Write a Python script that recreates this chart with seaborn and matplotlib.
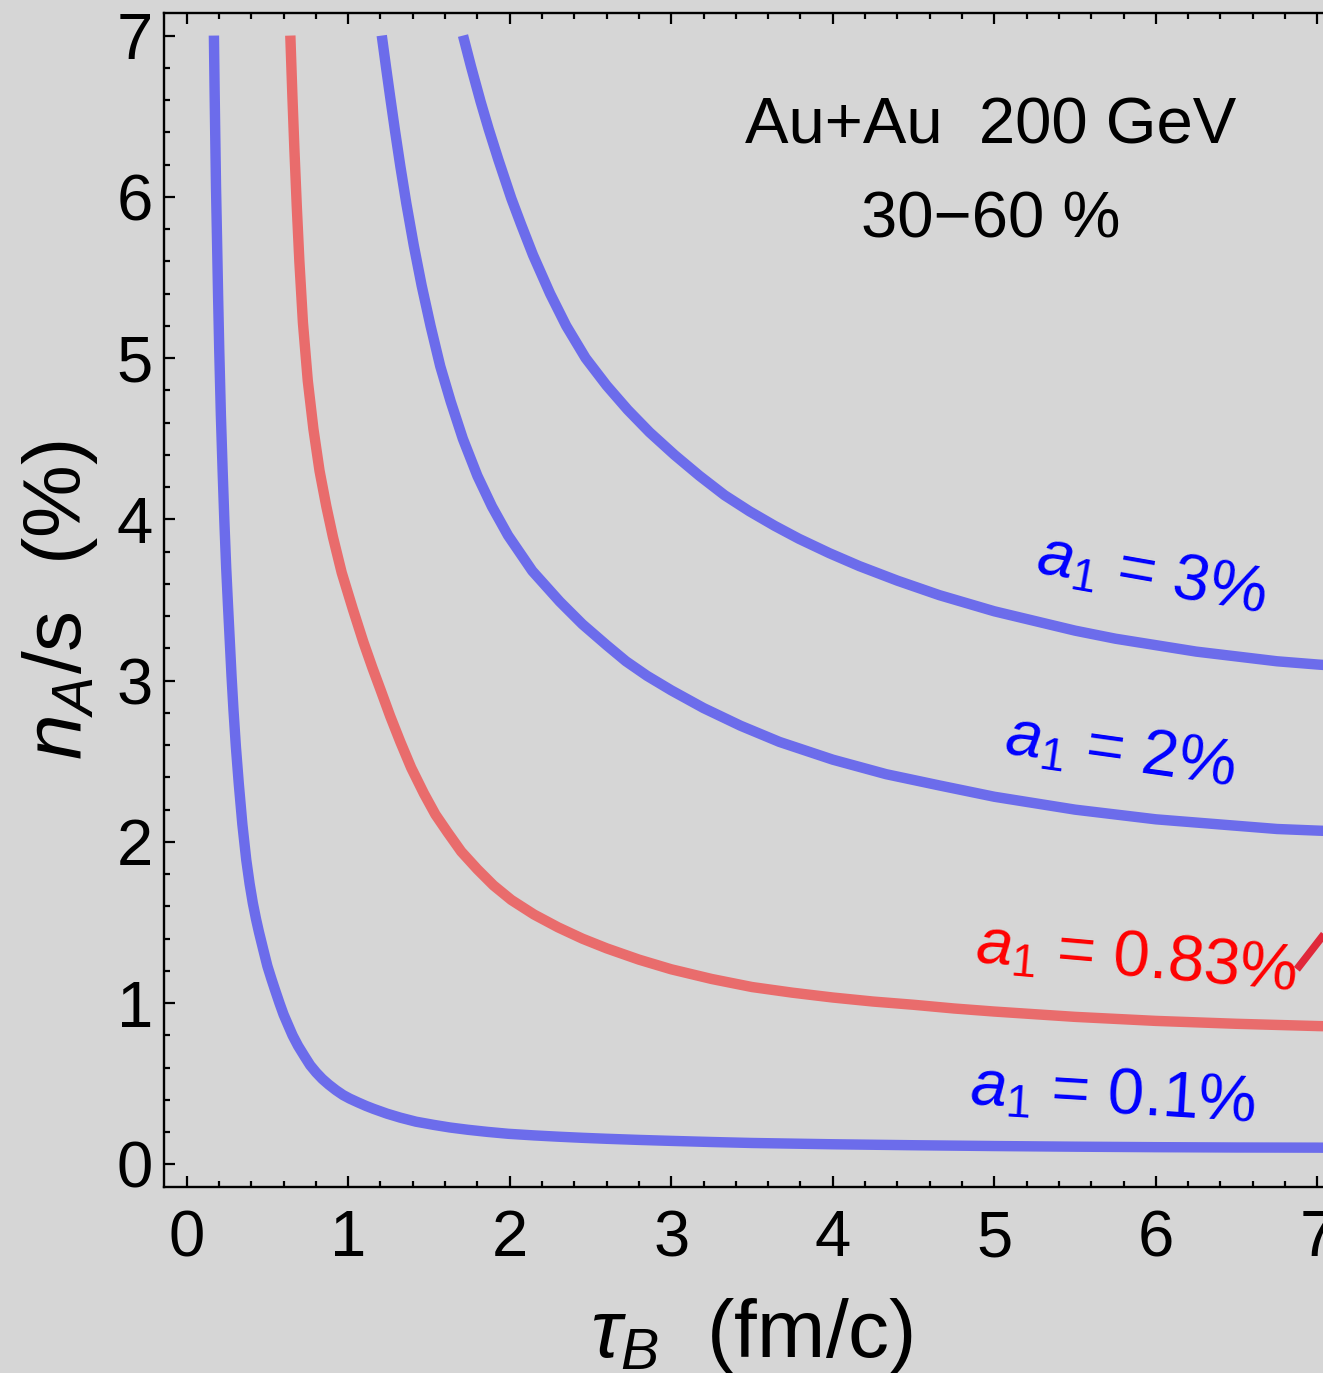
import matplotlib
matplotlib.use("Agg")
import matplotlib.pyplot as plt
from matplotlib.ticker import MultipleLocator
import seaborn as sns
import pandas as pd

# n_A/s (%) versus tau_B (fm/c) for several values of a_1
tau_01 = [0.169, 0.173, 0.177, 0.182, 0.188, 0.195, 0.202, 0.212, 0.223, 0.234,
          0.245, 0.256, 0.267, 0.278, 0.290, 0.305, 0.323, 0.345, 0.369, 0.39,
          0.41, 0.43, 0.448, 0.475, 0.50, 0.525, 0.548, 0.575, 0.60, 0.63,
          0.656, 0.69, 0.73, 0.765, 0.802, 0.84, 0.88, 0.925, 0.969, 1.01,
          1.06, 1.11, 1.156, 1.24, 1.323, 1.42, 1.531, 1.63, 1.74, 1.86,
          1.99, 2.15, 2.3, 2.45, 2.6, 2.8, 3.0, 3.25, 3.5, 3.75,
          4.0, 4.5, 5.0, 5.5, 6.0, 6.5, 7.0, 7.14]
y_01 = [7.00, 6.68, 6.40, 6.06, 5.75, 5.38, 5.05, 4.65, 4.30, 3.98,
        3.70, 3.47, 3.25, 3.03, 2.82, 2.59, 2.36, 2.11, 1.89, 1.74,
        1.62, 1.52, 1.44, 1.33, 1.23, 1.15, 1.08, 1.00, 0.93, 0.86,
        0.80, 0.735, 0.67, 0.615, 0.57, 0.53, 0.495, 0.46, 0.43, 0.408,
        0.385, 0.363, 0.345, 0.315, 0.29, 0.265, 0.245, 0.229, 0.215, 0.202,
        0.19, 0.18, 0.172, 0.165, 0.159, 0.152, 0.146, 0.139, 0.133, 0.129,
        0.125, 0.119, 0.114, 0.110, 0.107, 0.105, 0.104, 0.103]

tau_083 = [0.642, 0.655, 0.667, 0.682, 0.698, 0.72, 0.75, 0.785, 0.823, 0.865,
           0.906, 0.96, 1.027, 1.094, 1.15, 1.198, 1.26, 1.323, 1.39, 1.469,
           1.54, 1.615, 1.70, 1.80, 1.90, 2.01, 2.15, 2.3, 2.45, 2.6,
           2.8, 3.0, 3.25, 3.5, 3.75, 4.0, 4.25, 4.5, 4.75, 5.0,
           5.5, 6.0, 6.5, 7.0, 7.14]
y_083 = [7.00, 6.62, 6.30, 5.94, 5.60, 5.22, 4.86, 4.56, 4.30, 4.08,
         3.89, 3.67, 3.45, 3.24, 3.08, 2.95, 2.78, 2.62, 2.46, 2.30,
         2.17, 2.06, 1.94, 1.83, 1.73, 1.64, 1.55, 1.47, 1.40, 1.34,
         1.27, 1.21, 1.15, 1.10, 1.065, 1.035, 1.01, 0.99, 0.967, 0.948,
         0.915, 0.89, 0.872, 0.858, 0.855]

tau_2 = [1.208, 1.235, 1.26, 1.29, 1.323, 1.36, 1.406, 1.455, 1.51, 1.57,
         1.635, 1.71, 1.80, 1.89, 1.99, 2.14, 2.31, 2.45, 2.6, 2.72,
         2.85, 3.0, 3.2, 3.43, 3.67, 4.0, 4.33, 4.66, 5.0, 5.25,
         5.5, 5.75, 6.0, 6.25, 6.5, 6.75, 7.0, 7.14]
y_2 = [7.00, 6.80, 6.62, 6.41, 6.19, 5.96, 5.70, 5.45, 5.20, 4.95,
       4.73, 4.50, 4.27, 4.08, 3.90, 3.68, 3.49, 3.35, 3.22, 3.12,
       3.03, 2.94, 2.83, 2.72, 2.62, 2.51, 2.42, 2.35, 2.28, 2.24,
       2.20, 2.17, 2.14, 2.12, 2.10, 2.08, 2.07, 2.065]

tau_3 = [1.711, 1.76, 1.82, 1.87, 1.93, 2.01, 2.07, 2.144, 2.25, 2.35,
         2.47, 2.6, 2.73, 2.866, 3.02, 3.175, 3.33, 3.485, 3.64, 3.79,
         3.98, 4.165, 4.4, 4.66, 4.83, 5.0, 5.25, 5.5, 5.75, 6.0,
         6.25, 6.5, 6.75, 7.0, 7.14]
y_3 = [7.00, 6.81, 6.59, 6.42, 6.23, 5.99, 5.83, 5.64, 5.40, 5.20,
       5.00, 4.83, 4.68, 4.54, 4.40, 4.27, 4.15, 4.05, 3.96, 3.88,
       3.79, 3.71, 3.62, 3.53, 3.48, 3.43, 3.37, 3.31, 3.26, 3.22,
       3.18, 3.15, 3.12, 3.10, 3.09]

# short pointer segment next to the 0.83% label
pointer_tau = [6.873, 7.14]
pointer_y = [1.21, 1.555]

labels = ["$a_1$ = 0.1%", "$a_1$ = 0.83%", "$a_1$ = 2%", "$a_1$ = 3%"]
label_tau = [5.73, 5.88, 5.78, 5.97]
label_y = [0.42, 1.27, 2.55, 3.65]
label_rot = [-3.5, -5.0, -8.0, -10.0]

system_text = ["Au+Au  200 GeV", "30\u221260 %"]
system_tau = [4.98, 4.98]
system_y = [6.33, 5.75]

BG = "#d6d6d6"
BLUE_LINE = "#6c6ceb"
RED_LINE = "#e96c6c"

sns.set_theme(style="ticks")
plt.rcParams["font.family"] = ["Liberation Sans", "DejaVu Sans"]
plt.rcParams["mathtext.fontset"] = "custom"
plt.rcParams["mathtext.rm"] = "Liberation Sans"
plt.rcParams["mathtext.it"] = "Liberation Sans:italic"
plt.rcParams["mathtext.bf"] = "Liberation Sans:bold"
for key in ["text.color", "axes.labelcolor", "xtick.color", "ytick.color",
            "xtick.labelcolor", "ytick.labelcolor", "axes.edgecolor"]:
    plt.rcParams[key] = "black"

fig = plt.figure(figsize=(13.23, 13.73), dpi=100, facecolor=BG)
ax = fig.add_axes([164 / 1323, 186 / 1373, 1176 / 1323, 1174 / 1373])
ax.set_facecolor(BG)

curves = [
    (tau_01, y_01, BLUE_LINE),
    (tau_083, y_083, RED_LINE),
    (tau_2, y_2, BLUE_LINE),
    (tau_3, y_3, BLUE_LINE),
]
for tx, ty, col in curves:
    df = pd.DataFrame({"tau": tx, "nA": ty})
    sns.lineplot(data=df, x="tau", y="nA", color=col, lw=7.5, estimator=None,
                 sort=False, ax=ax, solid_capstyle="butt",
                 solid_joinstyle="round")

ax.plot(pointer_tau, pointer_y, color="#e0283a", lw=5.5, solid_capstyle="butt")

for s, tx, ty, rot, col in zip(labels, label_tau, label_y, label_rot,
                               ["#0000ff", "#ff0000", "#0000ff", "#0000ff"]):
    ax.text(tx, ty, s, color=col, fontsize=47, rotation=rot,
            rotation_mode="anchor", ha="center", va="center")

for s, tx, ty in zip(system_text, system_tau, system_y):
    ax.text(tx, ty, s, color="black", fontsize=47, ha="center", va="baseline")

ax.set_xlim(-0.14, 7.14)
ax.set_ylim(-0.14, 7.14)
ax.xaxis.set_major_locator(MultipleLocator(1))
ax.xaxis.set_minor_locator(MultipleLocator(0.2))
ax.yaxis.set_major_locator(MultipleLocator(1))
ax.yaxis.set_minor_locator(MultipleLocator(0.2))

ax.tick_params(which="both", direction="in", top=True, right=True,
               color="black", width=1.6, labelcolor="black")
ax.tick_params(which="major", length=8)
ax.tick_params(which="minor", length=4.3)
ax.tick_params(axis="x", which="major", pad=16, labelsize=47)
ax.tick_params(axis="y", which="major", pad=8, labelsize=47)

for sp in ax.spines.values():
    sp.set_visible(True)
    sp.set_linewidth(1.7)
    sp.set_color("black")

ax.set_xlabel(r"$\tau_B$  (fm/c)", fontsize=59, color="black")
ax.set_ylabel(r"$n_A$/s  (%)", fontsize=59, color="black")
ax.xaxis.set_label_coords(0.5, -0.093)
ax.yaxis.set_label_coords(-0.054, 0.5)

fig.savefig("out.png", dpi=100, facecolor=BG)
